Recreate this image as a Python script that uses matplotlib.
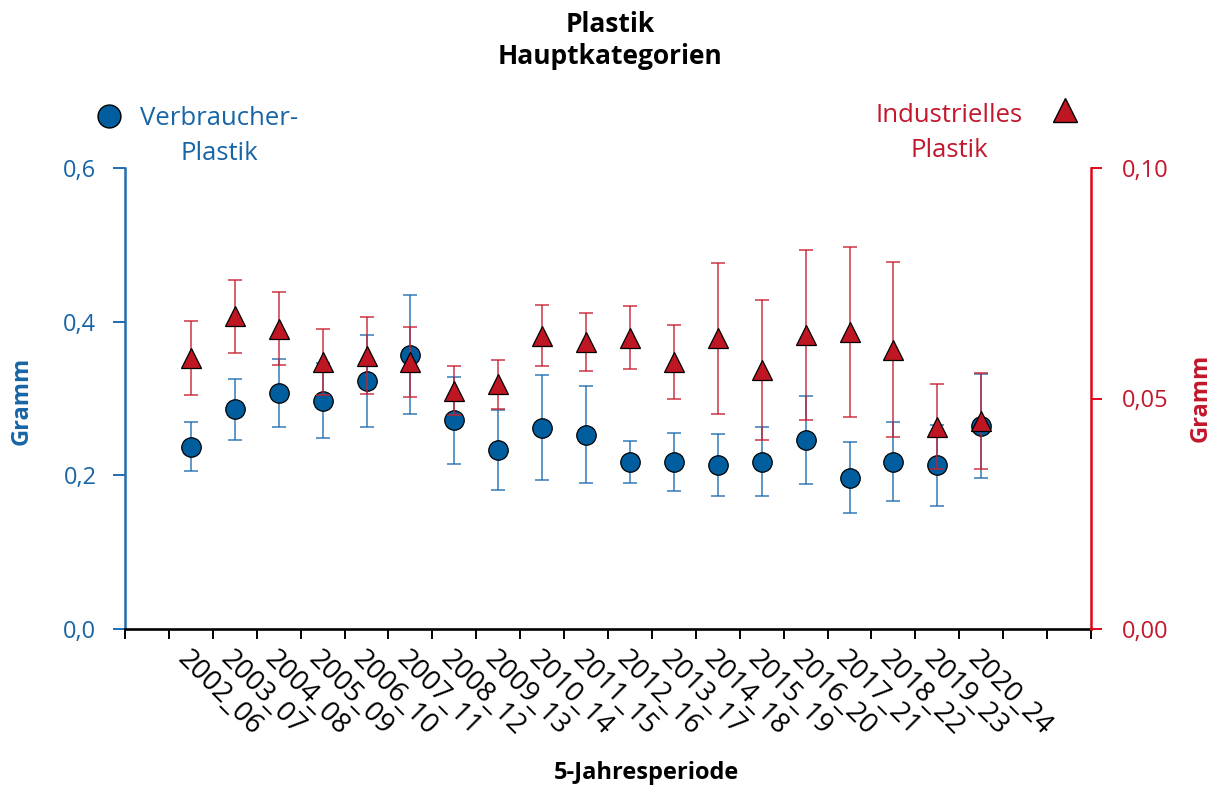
import matplotlib
matplotlib.use('Agg')
import matplotlib.pyplot as plt
import numpy as np

plt.rcParams['font.family'] = ['Open Sans', 'DejaVu Sans']

# ---- data ----
periods = ['2002_06', '2003_07', '2004_08', '2005_09', '2006_10', '2007_11',
           '2008_12', '2009_13', '2010_14', '2011_15', '2012_16', '2013_17',
           '2014_18', '2015_19', '2016_20', '2017_21', '2018_22', '2019_23',
           '2020_24']
consumer_mean = [0.237, 0.286, 0.307, 0.297, 0.323, 0.357, 0.272, 0.233, 0.262,
                 0.253, 0.217, 0.217, 0.214, 0.218, 0.246, 0.197, 0.218, 0.213,
                 0.264]
consumer_err = [0.032, 0.0395, 0.0442, 0.049, 0.060, 0.0774, 0.0566, 0.0525,
                0.0686, 0.0629, 0.0273, 0.0377, 0.0403, 0.0451, 0.0577, 0.0464,
                0.0513, 0.053, 0.0677]
industrial_mean = [0.0588, 0.0678, 0.0651, 0.0579, 0.0593, 0.0580, 0.0517,
                   0.0531, 0.0636, 0.0622, 0.0632, 0.0580, 0.0631, 0.0562,
                   0.0638, 0.0644, 0.0606, 0.0439, 0.0451]
industrial_err = [0.0080, 0.0080, 0.0079, 0.0071, 0.0084, 0.0076, 0.0053,
                  0.0053, 0.0066, 0.0063, 0.0068, 0.0080, 0.0164, 0.0152,
                  0.0185, 0.0185, 0.0190, 0.0093, 0.0104]
left_ticks = [0.0, 0.2, 0.4, 0.6]
left_ticklabels = ['0,0', '0,2', '0,4', '0,6']
right_ticks = [0.00, 0.05, 0.10]
right_ticklabels = ['0,00', '0,05', '0,10']
title_lines = ['Plastik', 'Hauptkategorien']
consumer_label = ['Verbraucher-', 'Plastik']
industrial_label = ['Industrielles', 'Plastik']
xlabel = '5-Jahresperiode'
ylabel = 'Gramm'

# ---- style ----
BLUE = '#005e9e'
BLUE_TXT = '#1765a6'
BLUE_ERR = '#1f6db0'
RED = '#be1622'
RED_TXT = '#c2172c'
RED_ERR = '#c8202f'
RED_SPINE = '#e0061a'

W, H = 1220, 787
fig = plt.figure(figsize=(W / 100, H / 100), dpi=100)
L, R, B, T = 125, 1091, 629, 168
ax = fig.add_axes([L / W, 1 - B / H, (R - L) / W, (B - T) / H])
ax2 = ax.twinx()

x = np.arange(len(periods))
ax.set_xlim(-1.5, len(periods) + 1.5)
ax.set_ylim(0, 0.6)
ax2.set_ylim(0, 0.1)

ax.errorbar(x, consumer_mean, yerr=consumer_err, fmt='none', ecolor=BLUE_ERR,
            elinewidth=1.1, capsize=5.2, capthick=1.1, alpha=0.9, zorder=2)
ax.plot(x, consumer_mean, 'o', ms=14, mfc=BLUE, mec='black', mew=0.9,
        zorder=3)
ax2.errorbar(x, industrial_mean, yerr=industrial_err, fmt='none',
             ecolor=RED_ERR, elinewidth=1.1, capsize=5.2, capthick=1.1,
             alpha=0.9, zorder=2)
ax2.plot(x, industrial_mean, '^', ms=14, mfc=RED, mec='black', mew=0.9,
         zorder=3)

# x ticks: boundaries as major ticks, labels on minor ticks at categories
ax.set_xticks(np.arange(-1.5, len(periods) + 1.6, 1.0))
ax.set_xticklabels([])
ax.set_xticks(x, minor=True)
ax.set_xticklabels(periods, minor=True, rotation=-45, ha='left', va='top',
                   rotation_mode='anchor', fontsize=20)
ax.tick_params(axis='x', which='major', length=7.2, width=1.4, color='black')
ax.tick_params(axis='x', which='minor', length=0, pad=12)

ax.set_yticks(left_ticks)
ax.set_yticklabels(left_ticklabels, fontsize=17, color=BLUE_TXT)
ax.tick_params(axis='y', length=8.6, width=1.4, color=BLUE_ERR, pad=12)
ax2.set_yticks(right_ticks)
ax2.set_yticklabels(right_ticklabels, fontsize=17, color=RED_TXT)
ax2.tick_params(axis='y', length=8, width=1.4, color=RED_SPINE, pad=14)

for a in (ax, ax2):
    a.spines['top'].set_visible(False)
ax.spines['right'].set_visible(False)
ax2.spines['left'].set_visible(False)
ax2.spines['bottom'].set_visible(False)
ax.spines['left'].set_color(BLUE_ERR)
ax.spines['left'].set_linewidth(1.8)
ax.spines['bottom'].set_linewidth(1.9)
ax.spines['bottom'].set_color('black')
ax2.spines['right'].set_color(RED_SPINE)
ax2.spines['right'].set_linewidth(1.8)

# titles and labels
fig.text(610 / W, 1 - 32 / H, title_lines[0], ha='center', va='baseline',
         fontsize=19, fontweight='bold')
fig.text(610 / W, 1 - 64 / H, title_lines[1], ha='center', va='baseline',
         fontsize=19, fontweight='bold')
fig.text(646 / W, 1 - 779 / H, xlabel, ha='center', va='baseline',
         fontsize=17, fontweight='bold')
fig.text(22 / W, 1 - 401 / H, ylabel, ha='center', va='center', rotation=90,
         fontsize=17, fontweight='bold', color=BLUE_TXT)
fig.text(1201 / W, 1 - 398 / H, ylabel, ha='center', va='center', rotation=90,
         fontsize=17, fontweight='bold', color=RED_TXT)

# legend-like annotations
fig.lines.append(plt.Line2D([108.5 / W], [1 - 115.5 / H], marker='o', ms=16.5,
                            mfc=BLUE, mec='black', mew=1.0,
                            transform=fig.transFigure, figure=fig))
fig.text(219 / W, 1 - 125 / H, consumer_label[0], ha='center', va='baseline',
         fontsize=18.5, color=BLUE_TXT)
fig.text(219 / W, 1 - 160 / H, consumer_label[1], ha='center', va='baseline',
         fontsize=18.5, color=BLUE_TXT)
fig.lines.append(plt.Line2D([1064.5 / W], [1 - 110 / H], marker='^', ms=17,
                            mfc=RED, mec='black', mew=1.0,
                            transform=fig.transFigure, figure=fig))
fig.text(949.5 / W, 1 - 122 / H, industrial_label[0], ha='center',
         va='baseline', fontsize=18.5, color=RED_TXT)
fig.text(949.5 / W, 1 - 157 / H, industrial_label[1], ha='center',
         va='baseline', fontsize=18.5, color=RED_TXT)

fig.savefig('out.png', dpi=100)
